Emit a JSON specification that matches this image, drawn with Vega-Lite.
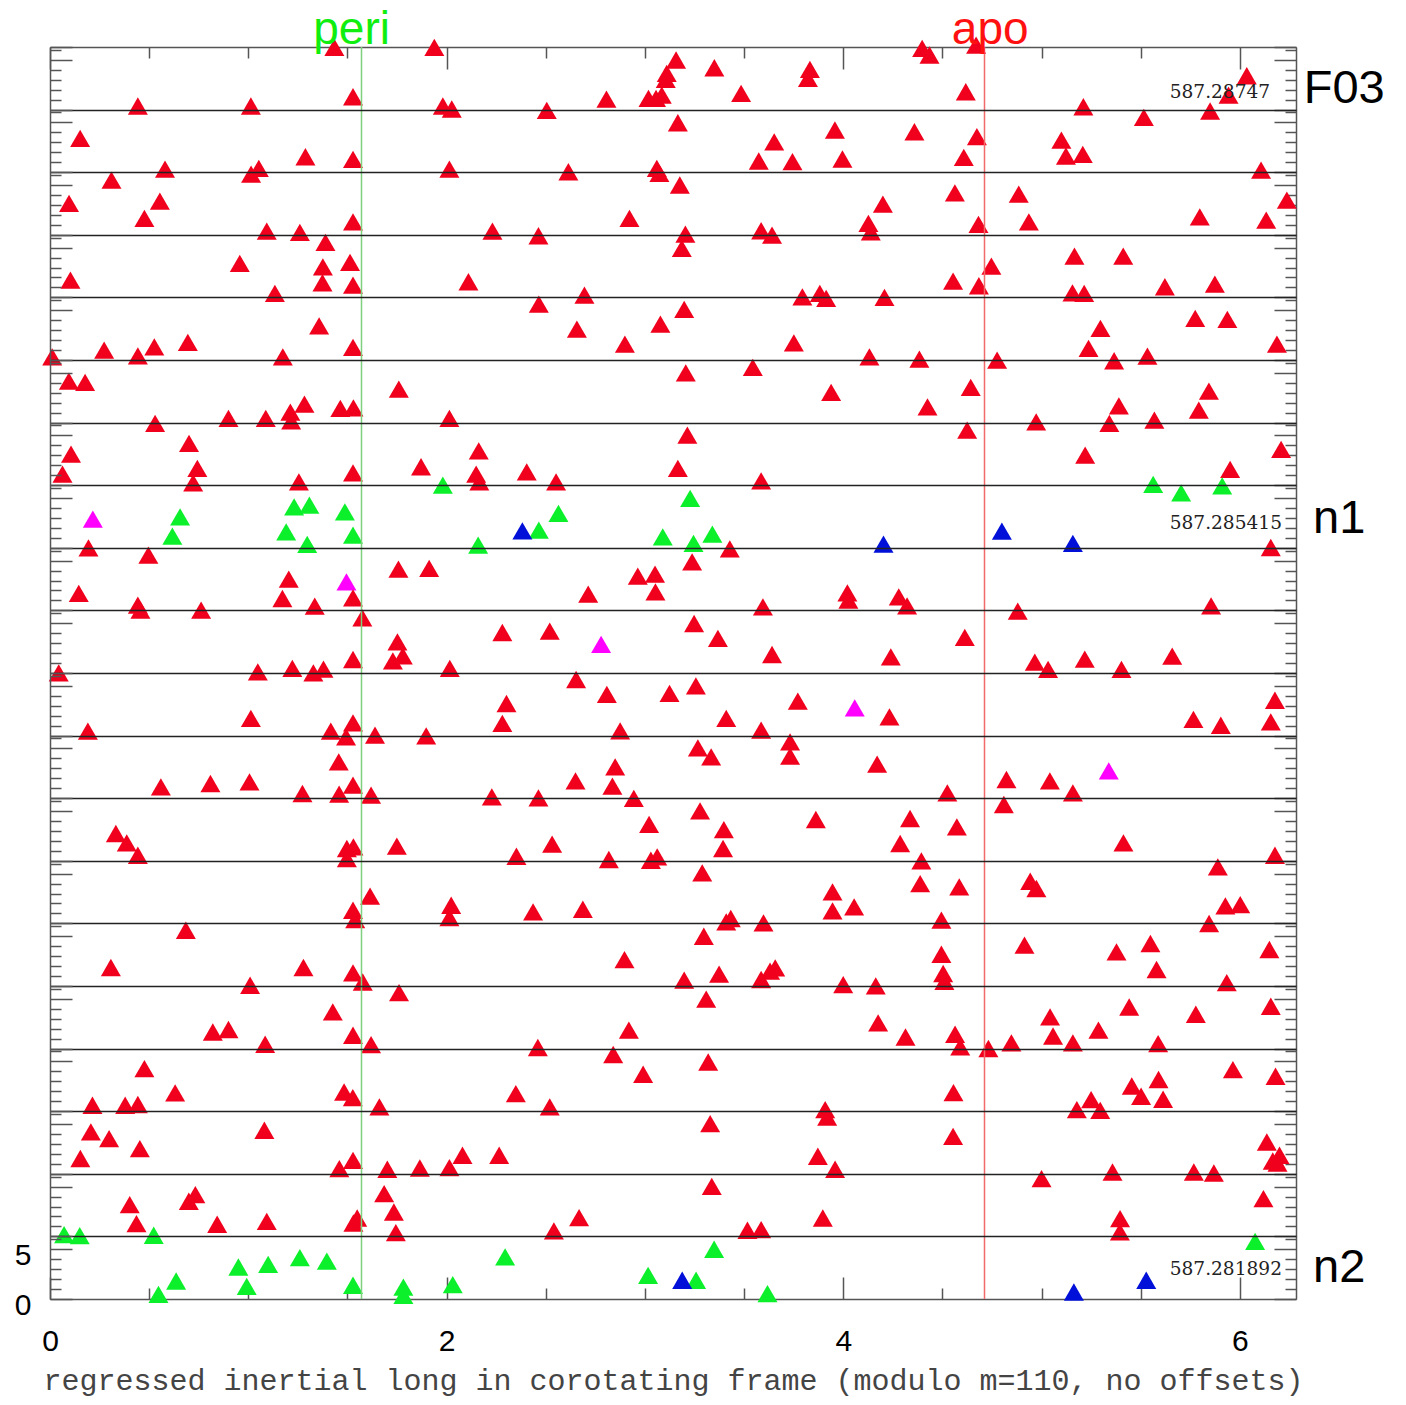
{
"$schema":"https://vega.github.io/schema/vega-lite/v6.json",
"width":1246,"height":1252,
"autosize":{"type":"none"},
"padding":{"left":50,"top":47,"right":110,"bottom":106},
"background":"white",
"config":{"view":{"stroke":null}},
"resolve":{"axis":{"x":"independent","y":"independent"}},
"datasets":{
"pts":[
{"x":1.434,"y":125.63,"c":"r"},{"x":1.938,"y":125.63,"c":"r"},{"x":1.528,"y":120.67,"c":"r"},{"x":0.443,"y":119.74,"c":"r"},{"x":1.013,"y":119.74,"c":"r"},{"x":1.981,"y":119.74,"c":"r"},{"x":2.026,"y":119.44,"c":"r"},{"x":0.152,"y":116.49,"c":"r"},{"x":1.288,"y":114.65,"c":"r"},{"x":1.528,"y":114.39,"c":"r"},{"x":0.58,"y":113.41,"c":"r"},{"x":1.053,"y":113.48,"c":"r"},{"x":1.014,"y":112.91,"c":"r"},{"x":2.014,"y":113.41,"c":"r"},{"x":0.31,"y":112.31,"c":"r"},{"x":0.096,"y":109.97,"c":"r"},{"x":0.554,"y":110.2,"c":"r"},{"x":0.476,"y":108.46,"c":"r"},{"x":1.528,"y":108.12,"c":"r"},{"x":1.093,"y":107.19,"c":"r"},{"x":1.26,"y":107.06,"c":"r"},{"x":1.389,"y":106.05,"c":"r"},{"x":0.957,"y":103.95,"c":"r"},{"x":1.376,"y":103.6,"c":"r"},{"x":1.513,"y":104.05,"c":"r"},{"x":0.103,"y":102.27,"c":"r"},{"x":1.374,"y":102.0,"c":"r"},{"x":1.528,"y":101.77,"c":"r"},{"x":2.11,"y":102.1,"c":"r"},{"x":1.134,"y":100.93,"c":"r"},{"x":1.357,"y":97.68,"c":"r"},{"x":0.695,"y":96.01,"c":"r"},{"x":0.273,"y":95.24,"c":"r"},{"x":0.526,"y":95.57,"c":"r"},{"x":1.528,"y":95.51,"c":"r"},{"x":0.011,"y":94.57,"c":"r"},{"x":0.443,"y":94.67,"c":"r"},{"x":1.174,"y":94.57,"c":"r"},{"x":0.095,"y":92.13,"c":"r"},{"x":0.177,"y":92.0,"c":"r"},{"x":1.759,"y":91.33,"c":"r"},{"x":1.283,"y":89.82,"c":"r"},{"x":1.212,"y":89.02,"c":"r"},{"x":1.216,"y":88.14,"c":"r"},{"x":1.464,"y":89.39,"c":"r"},{"x":1.53,"y":89.45,"c":"r"},{"x":0.53,"y":87.88,"c":"r"},{"x":0.9,"y":88.39,"c":"r"},{"x":1.088,"y":88.39,"c":"r"},{"x":2.014,"y":88.39,"c":"r"},{"x":0.701,"y":85.88,"c":"r"},{"x":0.106,"y":84.8,"c":"r"},
{"x":3.157,"y":124.36,"c":"r"},{"x":3.35,"y":123.58,"c":"r"},{"x":3.832,"y":123.42,"c":"r"},{"x":3.822,"y":122.52,"c":"r"},{"x":3.11,"y":123.02,"c":"r"},{"x":3.105,"y":122.42,"c":"r"},{"x":3.018,"y":120.51,"c":"r"},{"x":3.056,"y":120.51,"c":"r"},{"x":3.085,"y":120.84,"c":"r"},{"x":3.485,"y":121.01,"c":"r"},{"x":2.806,"y":120.44,"c":"r"},{"x":2.505,"y":119.31,"c":"r"},{"x":3.166,"y":118.06,"c":"r"},{"x":3.958,"y":117.33,"c":"r"},{"x":3.652,"y":116.15,"c":"r"},{"x":3.574,"y":114.22,"c":"r"},{"x":3.744,"y":114.15,"c":"r"},{"x":3.996,"y":114.42,"c":"r"},{"x":2.614,"y":113.14,"c":"r"},{"x":3.06,"y":113.48,"c":"r"},{"x":3.073,"y":112.98,"c":"r"},{"x":3.176,"y":111.81,"c":"r"},{"x":4.2,"y":109.9,"c":"r"},{"x":2.922,"y":108.46,"c":"r"},{"x":2.231,"y":107.19,"c":"r"},{"x":2.463,"y":106.72,"c":"r"},{"x":3.204,"y":106.89,"c":"r"},{"x":3.186,"y":105.45,"c":"r"},{"x":3.586,"y":107.22,"c":"r"},{"x":3.641,"y":106.79,"c":"r"},{"x":4.127,"y":107.96,"c":"r"},{"x":4.139,"y":107.12,"c":"r"},{"x":2.465,"y":99.86,"c":"r"},{"x":2.695,"y":100.76,"c":"r"},{"x":3.198,"y":99.33,"c":"r"},{"x":3.078,"y":97.85,"c":"r"},{"x":2.657,"y":97.35,"c":"r"},{"x":2.899,"y":95.84,"c":"r"},{"x":3.794,"y":100.59,"c":"r"},{"x":3.882,"y":100.93,"c":"r"},{"x":3.914,"y":100.43,"c":"r"},{"x":4.208,"y":100.53,"c":"r"},{"x":3.751,"y":95.97,"c":"r"},{"x":3.206,"y":92.96,"c":"r"},{"x":3.544,"y":93.5,"c":"r"},{"x":4.132,"y":94.57,"c":"r"},{"x":3.939,"y":91.0,"c":"r"},{"x":3.214,"y":86.71,"c":"r"},{"x":2.162,"y":85.13,"c":"r"},
{"x":4.398,"y":125.53,"c":"r"},{"x":4.435,"y":124.86,"c":"r"},{"x":4.67,"y":125.86,"c":"r"},{"x":6.035,"y":122.78,"c":"r"},{"x":4.618,"y":121.17,"c":"r"},{"x":5.943,"y":120.84,"c":"r"},{"x":5.211,"y":119.67,"c":"r"},{"x":5.85,"y":119.24,"c":"r"},{"x":5.516,"y":118.6,"c":"r"},{"x":4.359,"y":117.16,"c":"r"},{"x":4.674,"y":116.66,"c":"r"},{"x":5.1,"y":116.32,"c":"r"},{"x":5.123,"y":114.72,"c":"r"},{"x":5.208,"y":114.89,"c":"r"},{"x":4.608,"y":114.59,"c":"r"},{"x":6.107,"y":113.31,"c":"r"},{"x":4.563,"y":111.03,"c":"r"},{"x":4.885,"y":110.9,"c":"r"},{"x":6.237,"y":110.3,"c":"r"},{"x":5.798,"y":108.62,"c":"r"},{"x":4.682,"y":107.86,"c":"r"},{"x":4.936,"y":108.12,"c":"r"},{"x":6.133,"y":108.29,"c":"r"},{"x":5.166,"y":104.68,"c":"r"},{"x":5.412,"y":104.68,"c":"r"},{"x":4.747,"y":103.67,"c":"r"},{"x":4.554,"y":102.17,"c":"r"},{"x":4.684,"y":101.7,"c":"r"},{"x":5.874,"y":101.87,"c":"r"},{"x":5.622,"y":101.6,"c":"r"},{"x":5.156,"y":100.99,"c":"r"},{"x":5.215,"y":100.93,"c":"r"},{"x":5.775,"y":98.42,"c":"r"},{"x":5.937,"y":98.32,"c":"r"},{"x":5.297,"y":97.42,"c":"r"},{"x":5.237,"y":95.41,"c":"r"},{"x":6.187,"y":95.84,"c":"r"},{"x":4.384,"y":94.34,"c":"r"},{"x":4.776,"y":94.24,"c":"r"},{"x":5.366,"y":94.17,"c":"r"},{"x":5.534,"y":94.64,"c":"r"},{"x":5.844,"y":91.13,"c":"r"},{"x":4.643,"y":91.5,"c":"r"},{"x":4.425,"y":89.55,"c":"r"},{"x":5.39,"y":89.65,"c":"r"},{"x":5.793,"y":89.22,"c":"r"},{"x":4.625,"y":87.21,"c":"r"},{"x":4.973,"y":88.04,"c":"r"},{"x":5.342,"y":87.88,"c":"r"},{"x":5.569,"y":88.21,"c":"r"},{"x":5.22,"y":84.7,"c":"r"},{"x":6.208,"y":85.27,"c":"r"},
{"x":0.063,"y":82.79,"c":"r"},{"x":0.743,"y":83.37,"c":"r"},{"x":0.722,"y":81.92,"c":"r"},{"x":1.255,"y":82.02,"c":"r"},{"x":1.528,"y":82.92,"c":"r"},{"x":1.871,"y":83.53,"c":"r"},
{"x":1.981,"y":81.69,"c":"g"},{"x":1.231,"y":79.51,"c":"g"},{"x":1.308,"y":79.68,"c":"g"},{"x":1.487,"y":79.01,"c":"g"},{"x":0.656,"y":78.51,"c":"g"},{"x":1.191,"y":77.0,"c":"g"},{"x":1.528,"y":76.67,"c":"g"},{"x":0.617,"y":76.57,"c":"g"},{"x":1.297,"y":75.74,"c":"g"},
{"x":0.216,"y":78.28,"c":"m"},
{"x":0.194,"y":75.39,"c":"r"},{"x":0.496,"y":74.66,"c":"r"},{"x":1.757,"y":73.26,"c":"r"},{"x":1.912,"y":73.33,"c":"r"},{"x":1.204,"y":72.25,"c":"r"},
{"x":1.495,"y":71.98,"c":"m"},
{"x":0.145,"y":70.82,"c":"r"},{"x":1.172,"y":70.31,"c":"r"},{"x":1.528,"y":70.37,"c":"r"},{"x":1.335,"y":69.54,"c":"r"},{"x":0.443,"y":69.64,"c":"r"},{"x":0.456,"y":69.14,"c":"r"},{"x":0.762,"y":69.14,"c":"r"},{"x":1.575,"y":68.37,"c":"r"},{"x":1.752,"y":65.96,"c":"r"},{"x":1.779,"y":64.55,"c":"r"},{"x":1.729,"y":64.05,"c":"r"},{"x":1.528,"y":64.19,"c":"r"},{"x":0.044,"y":62.85,"c":"r"},{"x":1.048,"y":62.95,"c":"r"},{"x":1.222,"y":63.29,"c":"r"},{"x":1.328,"y":62.85,"c":"r"},{"x":1.379,"y":63.22,"c":"r"},{"x":2.016,"y":63.29,"c":"r"},{"x":1.013,"y":58.27,"c":"r"},{"x":0.191,"y":56.99,"c":"r"},{"x":1.528,"y":57.83,"c":"r"},{"x":1.416,"y":56.99,"c":"r"},{"x":1.493,"y":56.42,"c":"r"},{"x":1.639,"y":56.59,"c":"r"},{"x":1.897,"y":56.52,"c":"r"},{"x":1.456,"y":53.91,"c":"r"},{"x":0.559,"y":51.4,"c":"r"},{"x":0.809,"y":51.74,"c":"r"},{"x":1.006,"y":51.9,"c":"r"},{"x":1.528,"y":51.57,"c":"r"},{"x":1.273,"y":50.74,"c":"r"},{"x":1.458,"y":50.67,"c":"r"},{"x":1.619,"y":50.57,"c":"r"},{"x":0.332,"y":46.72,"c":"r"},{"x":0.387,"y":45.78,"c":"r"},{"x":0.443,"y":44.54,"c":"r"},{"x":1.497,"y":45.22,"c":"r"},{"x":1.53,"y":45.38,"c":"r"},{"x":1.497,"y":44.21,"c":"r"},{"x":1.749,"y":45.45,"c":"r"},
{"x":2.149,"y":82.79,"c":"r"},{"x":2.165,"y":82.02,"c":"r"},{"x":2.404,"y":83.02,"c":"r"},{"x":2.552,"y":82.02,"c":"r"},{"x":3.166,"y":83.37,"c":"r"},{"x":3.586,"y":82.12,"c":"r"},
{"x":3.228,"y":80.35,"c":"g"},{"x":2.564,"y":78.85,"c":"g"},{"x":2.465,"y":77.17,"c":"g"},{"x":2.159,"y":75.67,"c":"g"},{"x":3.09,"y":76.5,"c":"g"},{"x":3.245,"y":75.84,"c":"g"},{"x":3.34,"y":76.77,"c":"g"},
{"x":2.382,"y":77.1,"c":"b"},{"x":4.203,"y":75.77,"c":"b"},
{"x":3.428,"y":75.29,"c":"r"},{"x":3.238,"y":73.99,"c":"r"},{"x":2.964,"y":72.55,"c":"r"},{"x":3.051,"y":72.75,"c":"r"},{"x":3.053,"y":70.98,"c":"r"},{"x":2.714,"y":70.75,"c":"r"},{"x":3.595,"y":69.47,"c":"r"},{"x":4.021,"y":70.88,"c":"r"},{"x":4.026,"y":70.14,"c":"r"},{"x":3.248,"y":67.8,"c":"r"},{"x":2.281,"y":66.9,"c":"r"},{"x":2.52,"y":67.03,"c":"r"},
{"x":2.779,"y":65.7,"c":"m"},
{"x":3.368,"y":66.3,"c":"r"},{"x":3.641,"y":64.69,"c":"r"},{"x":2.653,"y":62.18,"c":"r"},{"x":2.808,"y":60.68,"c":"r"},{"x":3.124,"y":60.78,"c":"r"},{"x":3.257,"y":61.54,"c":"r"},{"x":2.302,"y":59.77,"c":"r"},{"x":2.281,"y":57.77,"c":"r"},{"x":3.771,"y":60.0,"c":"r"},
{"x":4.058,"y":59.33,"c":"m"},
{"x":3.41,"y":58.27,"c":"r"},{"x":2.875,"y":57.02,"c":"r"},{"x":3.586,"y":57.09,"c":"r"},{"x":3.732,"y":55.92,"c":"r"},{"x":3.732,"y":54.48,"c":"r"},{"x":3.267,"y":55.32,"c":"r"},{"x":3.334,"y":54.41,"c":"r"},{"x":4.171,"y":53.68,"c":"r"},{"x":2.85,"y":53.41,"c":"r"},{"x":2.65,"y":52.0,"c":"r"},{"x":2.836,"y":51.47,"c":"r"},{"x":2.228,"y":50.4,"c":"r"},{"x":2.463,"y":50.3,"c":"r"},{"x":2.944,"y":50.24,"c":"r"},{"x":3.278,"y":48.99,"c":"r"},{"x":3.862,"y":48.13,"c":"r"},{"x":3.021,"y":47.63,"c":"r"},{"x":3.398,"y":47.12,"c":"r"},{"x":2.532,"y":45.65,"c":"r"},{"x":3.394,"y":45.22,"c":"r"},{"x":2.352,"y":44.44,"c":"r"},{"x":2.818,"y":44.11,"c":"r"},{"x":3.03,"y":44.04,"c":"r"},{"x":3.062,"y":44.37,"c":"r"},{"x":3.289,"y":42.77,"c":"r"},
{"x":5.951,"y":83.27,"c":"r"},
{"x":5.563,"y":81.76,"c":"g"},{"x":5.704,"y":80.92,"c":"g"},{"x":5.911,"y":81.62,"c":"g"},
{"x":4.8,"y":77.07,"c":"b"},{"x":5.158,"y":75.84,"c":"b"},
{"x":6.156,"y":75.43,"c":"r"},{"x":4.28,"y":70.48,"c":"r"},{"x":4.322,"y":69.57,"c":"r"},{"x":4.88,"y":69.04,"c":"r"},{"x":5.855,"y":69.57,"c":"r"},{"x":4.613,"y":66.4,"c":"r"},{"x":4.24,"y":64.45,"c":"r"},{"x":4.966,"y":63.92,"c":"r"},{"x":5.033,"y":63.19,"c":"r"},{"x":5.218,"y":64.22,"c":"r"},{"x":5.403,"y":63.19,"c":"r"},{"x":5.659,"y":64.52,"c":"r"},{"x":6.177,"y":60.1,"c":"r"},{"x":6.156,"y":57.93,"c":"r"},{"x":4.233,"y":58.43,"c":"r"},{"x":5.766,"y":58.17,"c":"r"},{"x":5.904,"y":57.59,"c":"r"},
{"x":5.339,"y":53.01,"c":"m"},
{"x":4.823,"y":52.14,"c":"r"},{"x":5.042,"y":52.0,"c":"r"},{"x":4.525,"y":50.8,"c":"r"},{"x":5.158,"y":50.8,"c":"r"},{"x":4.81,"y":49.63,"c":"r"},{"x":4.337,"y":48.23,"c":"r"},{"x":4.573,"y":47.39,"c":"r"},{"x":4.287,"y":45.72,"c":"r"},{"x":5.413,"y":45.78,"c":"r"},{"x":4.394,"y":43.97,"c":"r"},{"x":5.889,"y":43.37,"c":"r"},{"x":6.177,"y":44.54,"c":"r"},
{"x":1.614,"y":40.43,"c":"r"},{"x":1.528,"y":39.02,"c":"r"},{"x":1.539,"y":38.09,"c":"r"},{"x":2.023,"y":39.52,"c":"r"},{"x":2.014,"y":38.29,"c":"r"},{"x":0.685,"y":37.01,"c":"r"},{"x":0.307,"y":33.27,"c":"r"},{"x":1.278,"y":33.27,"c":"r"},{"x":1.528,"y":32.73,"c":"r"},{"x":1.577,"y":31.82,"c":"r"},{"x":1.009,"y":31.49,"c":"r"},{"x":1.76,"y":30.76,"c":"r"},{"x":1.426,"y":28.81,"c":"r"},{"x":0.821,"y":26.8,"c":"r"},{"x":0.9,"y":27.05,"c":"r"},{"x":1.528,"y":26.47,"c":"r"},{"x":1.085,"y":25.57,"c":"r"},{"x":1.619,"y":25.54,"c":"r"},{"x":0.476,"y":23.13,"c":"r"},{"x":0.631,"y":20.68,"c":"r"},{"x":0.214,"y":19.45,"c":"r"},{"x":0.379,"y":19.45,"c":"r"},{"x":0.443,"y":19.52,"c":"r"},{"x":1.483,"y":20.78,"c":"r"},{"x":1.527,"y":20.22,"c":"r"},{"x":1.661,"y":19.28,"c":"r"},{"x":1.081,"y":16.94,"c":"r"},{"x":0.206,"y":16.77,"c":"r"},{"x":0.298,"y":16.1,"c":"r"},{"x":0.453,"y":15.1,"c":"r"},{"x":0.153,"y":14.1,"c":"r"},{"x":1.528,"y":13.92,"c":"r"},{"x":1.459,"y":13.09,"c":"r"},{"x":1.701,"y":13.02,"c":"r"},{"x":1.865,"y":13.15,"c":"r"},{"x":2.014,"y":13.19,"c":"r"},{"x":2.08,"y":14.43,"c":"r"},{"x":1.685,"y":10.58,"c":"r"},{"x":0.733,"y":10.48,"c":"r"},{"x":0.7,"y":9.81,"c":"r"},{"x":0.402,"y":9.48,"c":"r"},{"x":1.734,"y":8.73,"c":"r"},{"x":0.436,"y":7.57,"c":"r"},{"x":0.843,"y":7.5,"c":"r"},{"x":1.093,"y":7.8,"c":"r"},{"x":1.549,"y":8.13,"c":"r"},{"x":1.53,"y":7.63,"c":"r"},{"x":1.744,"y":6.67,"c":"r"},
{"x":0.071,"y":6.47,"c":"g"},{"x":0.15,"y":6.36,"c":"g"},{"x":0.523,"y":6.4,"c":"g"},{"x":0.95,"y":3.21,"c":"g"},{"x":1.1,"y":3.48,"c":"g"},{"x":1.26,"y":4.16,"c":"g"},{"x":1.396,"y":3.81,"c":"g"},{"x":0.636,"y":1.81,"c":"g"},{"x":0.992,"y":1.27,"c":"g"},{"x":0.547,"y":0.47,"c":"g"},{"x":1.528,"y":1.38,"c":"g"},{"x":1.782,"y":1.2,"c":"g"},{"x":1.782,"y":0.37,"c":"g"},{"x":2.031,"y":1.45,"c":"g"},
{"x":3.946,"y":40.86,"c":"r"},{"x":3.946,"y":38.95,"c":"r"},{"x":4.055,"y":39.35,"c":"r"},{"x":2.436,"y":38.85,"c":"r"},{"x":2.687,"y":39.12,"c":"r"},{"x":3.41,"y":37.85,"c":"r"},{"x":3.433,"y":38.19,"c":"r"},{"x":3.598,"y":37.75,"c":"r"},{"x":3.297,"y":36.41,"c":"r"},{"x":2.897,"y":34.07,"c":"r"},{"x":3.198,"y":32.0,"c":"r"},{"x":3.374,"y":32.6,"c":"r"},{"x":3.586,"y":32.07,"c":"r"},{"x":3.631,"y":32.9,"c":"r"},{"x":3.657,"y":33.23,"c":"r"},{"x":4.0,"y":31.56,"c":"r"},{"x":4.164,"y":31.42,"c":"r"},{"x":3.309,"y":30.09,"c":"r"},{"x":4.176,"y":27.71,"c":"r"},{"x":2.919,"y":26.98,"c":"r"},{"x":2.46,"y":25.24,"c":"r"},{"x":2.84,"y":24.54,"c":"r"},{"x":3.319,"y":23.79,"c":"r"},{"x":2.991,"y":22.56,"c":"r"},{"x":2.349,"y":20.62,"c":"r"},{"x":2.52,"y":19.28,"c":"r"},{"x":3.909,"y":19.01,"c":"r"},{"x":3.919,"y":18.27,"c":"r"},{"x":3.329,"y":17.61,"c":"r"},{"x":2.265,"y":14.43,"c":"r"},{"x":3.872,"y":14.33,"c":"r"},{"x":3.959,"y":13.02,"c":"r"},{"x":3.337,"y":11.31,"c":"r"},{"x":2.668,"y":8.17,"c":"r"},{"x":2.541,"y":6.83,"c":"r"},{"x":3.897,"y":8.13,"c":"r"},{"x":3.517,"y":6.9,"c":"r"},{"x":3.586,"y":6.97,"c":"r"},
{"x":2.295,"y":4.22,"c":"g"},{"x":3.349,"y":4.99,"c":"g"},{"x":3.016,"y":2.38,"c":"g"},{"x":3.258,"y":1.88,"c":"g"},{"x":3.618,"y":0.54,"c":"g"},
{"x":3.188,"y":1.88,"c":"b"},
{"x":4.388,"y":41.7,"c":"r"},{"x":4.585,"y":41.36,"c":"r"},{"x":4.943,"y":41.93,"c":"r"},{"x":4.974,"y":41.2,"c":"r"},{"x":5.927,"y":39.45,"c":"r"},{"x":6.002,"y":39.59,"c":"r"},{"x":4.495,"y":38.02,"c":"r"},{"x":5.845,"y":37.69,"c":"r"},{"x":4.914,"y":35.51,"c":"r"},{"x":5.378,"y":34.84,"c":"r"},{"x":5.549,"y":35.68,"c":"r"},{"x":6.149,"y":35.08,"c":"r"},{"x":4.495,"y":34.6,"c":"r"},{"x":5.58,"y":33.07,"c":"r"},{"x":4.504,"y":32.67,"c":"r"},{"x":4.51,"y":31.89,"c":"r"},{"x":5.934,"y":31.76,"c":"r"},{"x":5.442,"y":29.31,"c":"r"},{"x":5.778,"y":28.58,"c":"r"},{"x":6.156,"y":29.38,"c":"r"},{"x":5.043,"y":28.31,"c":"r"},{"x":5.058,"y":26.4,"c":"r"},{"x":5.287,"y":26.98,"c":"r"},{"x":4.314,"y":26.3,"c":"r"},{"x":4.564,"y":26.57,"c":"r"},{"x":4.59,"y":25.3,"c":"r"},{"x":4.732,"y":25.14,"c":"r"},{"x":4.848,"y":25.7,"c":"r"},{"x":5.158,"y":25.7,"c":"r"},{"x":5.588,"y":25.64,"c":"r"},{"x":5.965,"y":23.03,"c":"r"},{"x":6.18,"y":22.36,"c":"r"},{"x":4.556,"y":20.72,"c":"r"},{"x":5.59,"y":22.03,"c":"r"},{"x":5.455,"y":21.38,"c":"r"},{"x":5.502,"y":20.35,"c":"r"},{"x":5.613,"y":20.05,"c":"r"},{"x":5.25,"y":20.02,"c":"r"},{"x":5.296,"y":18.94,"c":"r"},{"x":5.178,"y":19.01,"c":"r"},{"x":4.554,"y":16.33,"c":"r"},{"x":6.136,"y":15.76,"c":"r"},{"x":6.2,"y":14.43,"c":"r"},{"x":6.166,"y":13.85,"c":"r"},{"x":6.19,"y":13.65,"c":"r"},{"x":5.0,"y":12.09,"c":"r"},{"x":5.358,"y":12.75,"c":"r"},{"x":5.768,"y":12.75,"c":"r"},{"x":5.869,"y":12.65,"c":"r"},{"x":6.119,"y":10.08,"c":"r"},{"x":5.396,"y":8.07,"c":"r"},{"x":5.395,"y":6.73,"c":"r"},
{"x":6.077,"y":5.79,"c":"g"},
{"x":5.528,"y":1.88,"c":"b"},{"x":5.163,"y":0.7,"c":"b"}
]
},
"layer":[
{
"data":{"name":"pts"},
"mark":{"type":"point","shape":"triangle-up","filled":true,"size":400,"opacity":1,"strokeWidth":0},
"encoding":{
"x":{"field":"x","type":"quantitative","scale":{"domain":[0,6.283185],"nice":false,"zero":false},
"axis":{"orient":"bottom","values":[0,0.5,1,1.5,2,2.5,3,3.5,4,4.5,5,5.5,6],"labelExpr":"datum.value % 2 === 0 ? format(datum.value, 'd') : ''","labelFont":"Liberation Sans","labelFontSize":30,"labelColor":"#000","labelPadding":49,"labelFlush":false,"labelOverlap":false,"labelBound":false,"tickSize":{"condition":{"test":"datum.value % 2 === 0","value":-22},"value":-11},"tickColor":"#555","tickWidth":1.5,"domainColor":"#555","domainWidth":1.5,"grid":false,"title":"regressed inertial long in corotating frame (modulo m=110, no offsets)","titleFont":"Liberation Mono","titleFontSize":30,"titleFontWeight":"normal","titleColor":"#444","titlePadding":-2}},
"y":{"field":"y","type":"quantitative","scale":{"domain":[0,125.6637],"nice":false,"zero":false},
"axis":{"orient":"left","values":[0,1,2,3,4,5,6,6.2832,7.2832,8.2832,9.2832,10.2832,11.2832,12.2832,12.5664,13.5664,14.5664,15.5664,16.5664,17.5664,18.5664,18.8496,19.8496,20.8496,21.8496,22.8496,23.8496,24.8496,25.1327,26.1327,27.1327,28.1327,29.1327,30.1327,31.1327,31.4159,32.4159,33.4159,34.4159,35.4159,36.4159,37.4159,37.6991,38.6991,39.6991,40.6991,41.6991,42.6991,43.6991,43.9823,44.9823,45.9823,46.9823,47.9823,48.9823,49.9823,50.2655,51.2655,52.2655,53.2655,54.2655,55.2655,56.2655,56.5487,57.5487,58.5487,59.5487,60.5487,61.5487,62.5487,62.8319,63.8319,64.8319,65.8319,66.8319,67.8319,68.8319,69.115,70.115,71.115,72.115,73.115,74.115,75.115,75.3982,76.3982,77.3982,78.3982,79.3982,80.3982,81.3982,81.6814,82.6814,83.6814,84.6814,85.6814,86.6814,87.6814,87.9646,88.9646,89.9646,90.9646,91.9646,92.9646,93.9646,94.2478,95.2478,96.2478,97.2478,98.2478,99.2478,100.2478,100.531,101.531,102.531,103.531,104.531,105.531,106.531,106.8142,107.8142,108.8142,109.8142,110.8142,111.8142,112.8142,113.0973,114.0973,115.0973,116.0973,117.0973,118.0973,119.0973,119.3805,120.3805,121.3805,122.3805,123.3805,124.3805,125.3805,125.6637],
"labelExpr":"datum.value === 0 ? '0' : (abs(datum.value - 5) < 0.001 ? '5' : '')","labelFont":"Liberation Sans","labelFontSize":30,"labelColor":"#000","labelPadding":41,"labelOffset":6,"labelBaseline":"middle","labelFlush":false,"labelOverlap":false,"labelBound":false,
"tickSize":{"condition":{"test":"abs(datum.value - 6.283185*round(datum.value/6.283185)) < 0.01 || abs(datum.value - 6.283185*floor(datum.value/6.283185) - 5) < 0.01","value":-22},"value":-11},
"tickColor":"#555","tickWidth":1.5,"domainColor":"#555","domainWidth":1.5,
"grid":true,"gridColor":"#222","gridWidth":1.5,
"gridOpacity":{"condition":{"test":"abs(datum.value - 6.283185*round(datum.value/6.283185)) < 0.01 && datum.value > 1 && datum.value < 125","value":1},"value":0},
"zindex":1,"title":null}},
"color":{"field":"c","type":"nominal","scale":{"domain":["r","g","b","m"],"range":["#f0001c","#0cf02c","#0010d8","#ff00ff"]},"legend":null}
}
},
{
"data":{"values":[{"name":"peri","x":1.570796}]},
"mark":{"type":"rule","color":"#7fd07f","strokeWidth":1.5},
"encoding":{"x":{"field":"x","type":"quantitative","scale":{"domain":[0,6.283185],"nice":false,"zero":false},"axis":null}}
},
{
"data":{"values":[{"name":"apo","x":4.712389}]},
"mark":{"type":"rule","color":"#f26a6a","strokeWidth":1.5},
"encoding":{"x":{"field":"x","type":"quantitative","scale":{"domain":[0,6.283185],"nice":false,"zero":false},"axis":null}}
},
{
"data":{"values":[{"t":"peri","x":1.521,"y":125.96},{"t":"apo","x":4.741,"y":125.96}]},
"mark":{"type":"text","font":"Liberation Sans","fontSize":46,"align":"center","baseline":"alphabetic"},
"encoding":{
"x":{"field":"x","type":"quantitative","scale":{"domain":[0,6.283185],"nice":false,"zero":false},"axis":null},
"y":{"field":"y","type":"quantitative","scale":{"domain":[0,125.6637],"nice":false,"zero":false},"axis":null},
"text":{"field":"t"},
"color":{"condition":{"test":"datum.t === 'peri'","value":"#10ee10"},"value":"#ff1111"}
}
},
{
"data":{"values":[{"t":"587.28747","x":5.646,"y":120.51},{"t":"587.285415","x":5.646,"y":77.24},{"t":"587.281892","x":5.646,"y":2.45}]},
"mark":{"type":"text","font":"DejaVu Serif","fontSize":18.6,"align":"left","baseline":"alphabetic","color":"#222"},
"encoding":{
"x":{"field":"x","type":"quantitative","scale":{"domain":[0,6.283185],"nice":false,"zero":false},"axis":null},
"y":{"field":"y","type":"quantitative","scale":{"domain":[0,125.6637],"nice":false,"zero":false},"axis":null},
"text":{"field":"t"}
}
},
{
"data":{"values":[{"t":"F03","x":6.322,"y":120.01},{"t":"n1","x":6.369,"y":76.84},{"t":"n2","x":6.369,"y":1.68}]},
"mark":{"type":"text","font":"Liberation Sans","fontSize":47,"align":"left","baseline":"alphabetic","color":"#000"},
"encoding":{
"x":{"field":"x","type":"quantitative","scale":{"domain":[0,6.283185],"nice":false,"zero":false},
"axis":{"orient":"top","values":[0,0.5,1,1.5,2,2.5,3,3.5,4,4.5,5,5.5,6],"labels":false,"tickSize":{"condition":{"test":"datum.value % 2 === 0","value":-22},"value":-11},"tickColor":"#555","tickWidth":1.5,"domainColor":"#555","domainWidth":1.5,"grid":false,"title":null}},
"y":{"field":"y","type":"quantitative","scale":{"domain":[0,125.6637],"nice":false,"zero":false},
"axis":{"orient":"right","values":[0,1,2,3,4,5,6,6.2832,7.2832,8.2832,9.2832,10.2832,11.2832,12.2832,12.5664,13.5664,14.5664,15.5664,16.5664,17.5664,18.5664,18.8496,19.8496,20.8496,21.8496,22.8496,23.8496,24.8496,25.1327,26.1327,27.1327,28.1327,29.1327,30.1327,31.1327,31.4159,32.4159,33.4159,34.4159,35.4159,36.4159,37.4159,37.6991,38.6991,39.6991,40.6991,41.6991,42.6991,43.6991,43.9823,44.9823,45.9823,46.9823,47.9823,48.9823,49.9823,50.2655,51.2655,52.2655,53.2655,54.2655,55.2655,56.2655,56.5487,57.5487,58.5487,59.5487,60.5487,61.5487,62.5487,62.8319,63.8319,64.8319,65.8319,66.8319,67.8319,68.8319,69.115,70.115,71.115,72.115,73.115,74.115,75.115,75.3982,76.3982,77.3982,78.3982,79.3982,80.3982,81.3982,81.6814,82.6814,83.6814,84.6814,85.6814,86.6814,87.6814,87.9646,88.9646,89.9646,90.9646,91.9646,92.9646,93.9646,94.2478,95.2478,96.2478,97.2478,98.2478,99.2478,100.2478,100.531,101.531,102.531,103.531,104.531,105.531,106.531,106.8142,107.8142,108.8142,109.8142,110.8142,111.8142,112.8142,113.0973,114.0973,115.0973,116.0973,117.0973,118.0973,119.0973,119.3805,120.3805,121.3805,122.3805,123.3805,124.3805,125.3805,125.6637],"labels":false,
"tickSize":{"condition":{"test":"abs(datum.value - 6.283185*round(datum.value/6.283185)) < 0.01 || abs(datum.value - 6.283185*floor(datum.value/6.283185) - 5) < 0.01","value":-22},"value":-11},
"tickColor":"#555","tickWidth":1.5,"domainColor":"#555","domainWidth":1.5,"grid":false,"title":null}},
"text":{"field":"t"}
}
}
]
}
